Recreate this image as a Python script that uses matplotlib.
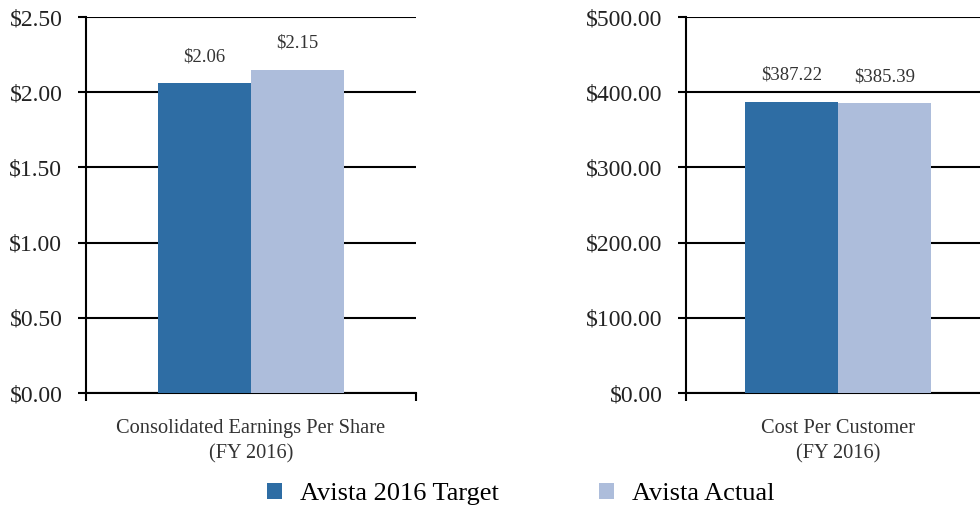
import matplotlib.pyplot as plt

plt.rcParams['font.family'] = ['Liberation Serif', 'DejaVu Serif']

# data
metrics = ["Consolidated Earnings Per Share\n(FY 2016)", "Cost Per Customer\n(FY 2016)"]
target = [2.06, 387.22]
actual = [2.15, 385.39]
series_names = ["Avista 2016 Target", "Avista Actual"]
y_limits = [2.5, 500]
y_steps = [0.5, 100]
tick_fmt = ["${:.2f}", "${:.2f}"]

dark = "#2e6da4"
light = "#adbddb"

fig = plt.figure(figsize=(9.8, 5.11), dpi=100)
W, H = 980, 511

# axes boxes in pixels: left, width
boxes = [(86, 330), (686, 304)]
bar_px = 93

for i, (x0, w) in enumerate(boxes):
    ax = fig.add_axes([x0 / W, (H - 393) / H, w / W, 376 / H])
    bw = bar_px / w
    b1 = ax.bar(-bw / 2, target[i], width=bw, color=dark, label=series_names[0], zorder=3)
    b2 = ax.bar(bw / 2, actual[i], width=bw, color=light, label=series_names[1], zorder=3)
    for bars, vals in [(b1, target), (b2, actual)]:
        for b in bars:
            ax.annotate("${:,.2f}".format(vals[i]), (b.get_x() + b.get_width() / 2, b.get_height()),
                        xytext=(0, 13), textcoords="offset points", ha="center", va="bottom",
                        fontsize=13.5, color="#333333")
    ax.set_xlim(-0.5, 0.5)
    ax.set_ylim(0, y_limits[i])
    ticks = [k * y_steps[i] for k in range(6)]
    ax.set_yticks(ticks)
    ax.set_yticklabels([tick_fmt[i].format(t) for t in ticks], fontsize=17, color="#222222")
    ax.set_xticks([-0.5, 0.5])
    ax.set_xticklabels([])
    ax.tick_params(axis="both", direction="out", length=6, width=1.5, color="black")
    ax.tick_params(axis="y", pad=11)
    ax.grid(axis="y", color="black", linewidth=1.5, zorder=0)
    for s in ["top", "right"]:
        ax.spines[s].set_visible(False)
    for s in ["left", "bottom"]:
        ax.spines[s].set_linewidth(1.5)
    ax.text(0.5, -0.068, metrics[i], transform=ax.transAxes, ha="center", va="top",
            fontsize=14.7, color="#333333", linespacing=1.45)
    if i == 0:
        handles = [b1, b2]

fig.legend(handles, series_names, loc="center", bbox_to_anchor=(521 / W, 1 - 494 / H),
           ncol=2, frameon=False, fontsize=19, handlelength=0.55, handleheight=0.55,
           columnspacing=3.8, handletextpad=0.7)

fig.savefig("out.png", dpi=100)
